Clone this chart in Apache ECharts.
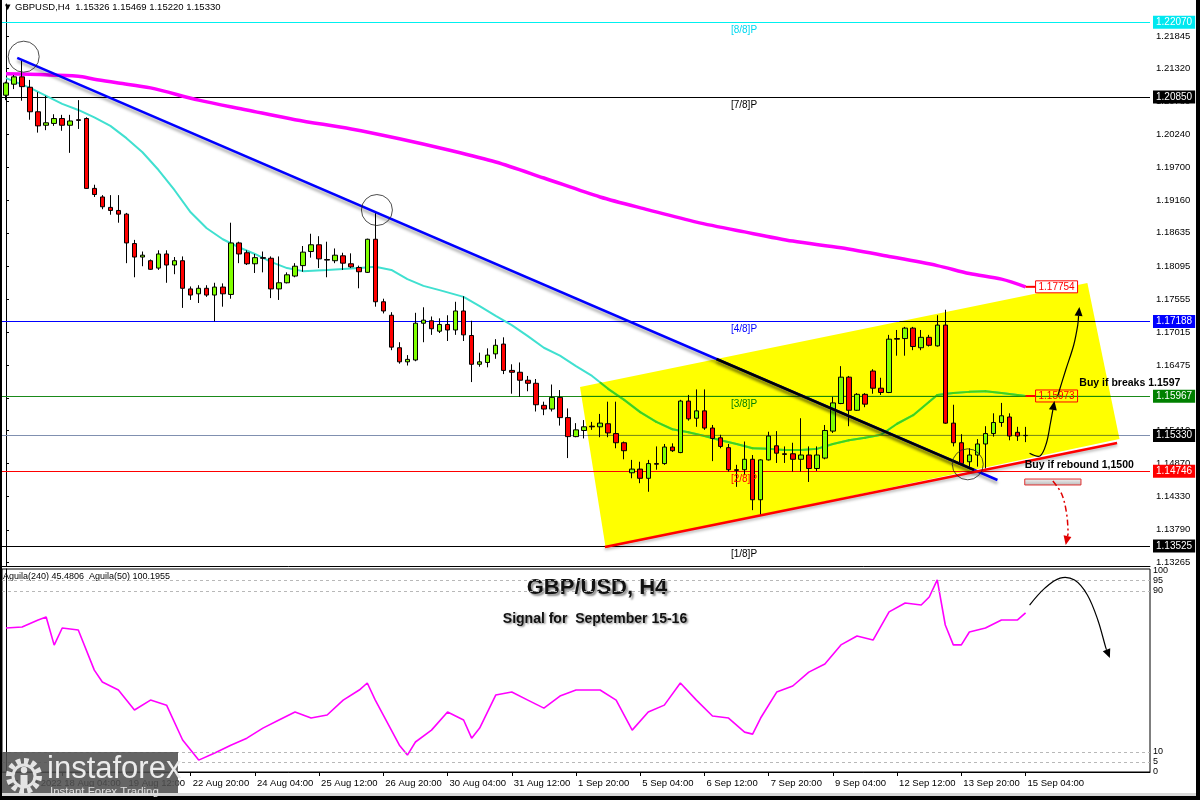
<!DOCTYPE html>
<html><head><meta charset="utf-8">
<script src="https://cdn.jsdelivr.net/npm/echarts@6/dist/echarts.min.js"></script>
<style>html,body{margin:0;padding:0;background:#fff}#c{width:1200px;height:800px}</style>
</head><body><div id="c"></div><script>
// ---------- DATA ----------
const days = ['17 Aug','18 Aug','19 Aug','22 Aug','23 Aug','24 Aug','25 Aug','26 Aug','29 Aug','30 Aug','31 Aug','1 Sep','2 Sep','5 Sep','6 Sep','7 Sep','8 Sep','9 Sep','12 Sep','13 Sep','14 Sep','15 Sep'];
const hours = ['00:00','04:00','08:00','12:00','16:00','20:00'];
const xTickAt = ['17 Aug 00:00','18 Aug 04:00','19 Aug 12:00','22 Aug 20:00','24 Aug 04:00','25 Aug 12:00','26 Aug 20:00','30 Aug 04:00','31 Aug 12:00','1 Sep 20:00','5 Sep 04:00','6 Sep 12:00','7 Sep 20:00','9 Sep 04:00','12 Sep 12:00','13 Sep 20:00','15 Sep 04:00'];
const xTickLabels = ['17 Aug 2022','18 Aug 04:00','19 Aug 12:00','22 Aug 20:00','24 Aug 04:00','25 Aug 12:00','26 Aug 20:00','30 Aug 04:00','31 Aug 12:00','1 Sep 20:00','5 Sep 04:00','6 Sep 12:00','7 Sep 20:00','9 Sep 04:00','12 Sep 12:00','13 Sep 20:00','15 Sep 04:00'];

const opens = [1.2088,1.2106,1.2118,1.2101,1.2061,1.2039,1.2042,1.2050,1.2039,1.2048,1.2050,1.1936,1.1922,1.1905,1.1900,1.1894,1.1846,1.1824,1.1818,1.1806,1.1829,1.1811,1.1818,1.1772,1.1764,1.1773,1.1762,1.1775,1.1763,1.1847,1.1831,1.1813,1.1823,1.1822,1.1772,1.1782,1.1793,1.1810,1.1833,1.1844,1.1820,1.1818,1.1826,1.1813,1.1807,1.1799,1.1853,1.1751,1.1729,1.1676,1.1653,1.1656,1.1716,1.1720,1.1703,1.1714,1.1705,1.1736,1.1696,1.1649,1.1652,1.1666,1.1682,1.1639,1.1636,1.1623,1.1618,1.1582,1.1576,1.1595,1.1562,1.1531,1.1541,1.1548,1.1547,1.1552,1.1536,1.1521,1.1472,1.1478,1.1463,1.1487,1.1487,1.1514,1.1505,1.1589,1.1561,1.1573,1.1545,1.1529,1.1513,1.1477,1.1477,1.1494,1.1428,1.1493,1.1516,1.1503,1.1503,1.1494,1.1501,1.1479,1.1496,1.1540,1.1585,1.1628,1.1574,1.1600,1.1638,1.1610,1.1603,1.1691,1.1691,1.1708,1.1676,1.1693,1.1679,1.1713,1.1553,1.1521,1.1490,1.1501,1.1519,1.1536,1.1554,1.1563,1.1538,1.15326];
const highs = [1.2110,1.2121,1.2145,1.2113,1.2093,1.2087,1.2057,1.2056,1.2056,1.2080,1.2052,1.1942,1.1925,1.1925,1.1925,1.1896,1.1852,1.1833,1.1820,1.1835,1.1835,1.1824,1.1825,1.1776,1.1778,1.1778,1.1782,1.1781,1.1880,1.1849,1.1835,1.1829,1.1833,1.1825,1.1825,1.1799,1.1814,1.1842,1.1862,1.1858,1.1849,1.1838,1.1831,1.1830,1.1810,1.1854,1.1897,1.1756,1.1734,1.1685,1.1664,1.1733,1.1742,1.1727,1.1724,1.1729,1.1751,1.1760,1.1720,1.1668,1.1675,1.1690,1.1693,1.1649,1.1652,1.1630,1.1625,1.1588,1.1616,1.1607,1.1577,1.1553,1.1558,1.1555,1.1568,1.1588,1.1588,1.1523,1.1493,1.1490,1.1493,1.1515,1.1519,1.1520,1.1591,1.1599,1.1608,1.1608,1.1550,1.1534,1.1519,1.1485,1.1523,1.1501,1.1494,1.1539,1.1540,1.1515,1.1521,1.1561,1.1515,1.1515,1.1550,1.1596,1.1646,1.1630,1.1602,1.1602,1.1641,1.1627,1.1697,1.1705,1.1710,1.1710,1.1705,1.1697,1.1729,1.1738,1.1583,1.1535,1.1512,1.1527,1.1548,1.1569,1.1586,1.1569,1.1547,1.15469];
const lows = [1.2080,1.2098,1.2079,1.2048,1.2027,1.2031,1.2038,1.2030,1.1994,1.2033,1.1935,1.1922,1.1902,1.1893,1.1880,1.1814,1.1791,1.1809,1.1803,1.1803,1.1782,1.1796,1.1741,1.1754,1.1749,1.1759,1.1719,1.1743,1.1756,1.1814,1.1811,1.1798,1.1799,1.1757,1.1754,1.1781,1.1791,1.1800,1.1823,1.1806,1.1791,1.1814,1.1803,1.1806,1.1773,1.1798,1.1743,1.1732,1.1672,1.1650,1.1647,1.1654,1.1685,1.1697,1.1700,1.1687,1.1697,1.1687,1.1620,1.1645,1.1644,1.1658,1.1633,1.1601,1.1596,1.1605,1.1572,1.1566,1.1572,1.1549,1.1496,1.1530,1.1528,1.1542,1.1530,1.1530,1.1512,1.1494,1.1463,1.1455,1.1441,1.1477,1.1485,1.1506,1.1504,1.1557,1.1547,1.1542,1.1491,1.1512,1.1474,1.1449,1.1468,1.1411,1.1403,1.1492,1.1488,1.1488,1.1474,1.1474,1.1457,1.1475,1.1494,1.1537,1.1584,1.1548,1.1573,1.1579,1.1601,1.1599,1.1602,1.1663,1.1663,1.1672,1.1672,1.1678,1.1678,1.1552,1.1515,1.1485,1.1479,1.1482,1.1479,1.1531,1.1547,1.1525,1.1524,1.15220];
const closes = [1.2108,1.2118,1.2102,1.2061,1.2038,1.2043,1.2050,1.2039,1.2046,1.2047,1.1936,1.1926,1.1906,1.1900,1.1894,1.1847,1.1824,1.1827,1.1804,1.1829,1.1811,1.1818,1.1773,1.1762,1.1773,1.1762,1.1775,1.1764,1.1847,1.1829,1.1813,1.1823,1.1822,1.1772,1.1782,1.1795,1.1809,1.1832,1.1844,1.1821,1.1819,1.1827,1.1814,1.1808,1.1800,1.1853,1.1751,1.1736,1.1677,1.1653,1.1657,1.1716,1.1721,1.1707,1.1714,1.1705,1.1736,1.1697,1.1649,1.1653,1.1664,1.1680,1.1639,1.1636,1.1623,1.1618,1.1583,1.1576,1.1595,1.1562,1.1531,1.1542,1.1547,1.1547,1.1553,1.1537,1.1521,1.1508,1.1478,1.1463,1.1487,1.1486,1.1514,1.1508,1.1589,1.1560,1.1573,1.1545,1.1528,1.1515,1.1477,1.1476,1.1494,1.1428,1.1493,1.1532,1.1504,1.1502,1.1494,1.1501,1.1479,1.1501,1.1541,1.1586,1.1628,1.1574,1.1600,1.1584,1.1610,1.1603,1.1690,1.1690,1.1708,1.1678,1.1693,1.1680,1.1713,1.1553,1.1521,1.1487,1.1501,1.1519,1.1536,1.1554,1.1565,1.1532,1.1532,1.15330];

// moving averages: [bar index, price]
const maSlow = [[0,1.2123],[9,1.2119],[11,1.2114],[14,1.2108],[18,1.2100],[24,1.2080],[30,1.2064],[36,1.2048],[43,1.2033],[49,1.2017],[55,1.1999],[61,1.1979],[67,1.1953],[74,1.1922],[80,1.1901],[86,1.1881],[92,1.1865],[98,1.1850],[104,1.1839],[110,1.1825],[116,1.1810],[120,1.1797],[124,1.1788],[127,1.17754]];
const maFast = [[0,1.2116],[3,1.2100],[7,1.2074],[9,1.2064],[11,1.2052],[13,1.2038],[15,1.2018],[17,1.1995],[19,1.1966],[21,1.1933],[23,1.1897],[25,1.1871],[27,1.1853],[29,1.1840],[31,1.1829],[33,1.1816],[35,1.1806],[37,1.1801],[40,1.1803],[44,1.1806],[46,1.1808],[48,1.1803],[50,1.1788],[52,1.1777],[54,1.1770],[57,1.1759],[59,1.1744],[61,1.1728],[63,1.1713],[65,1.1695],[67,1.1676],[69,1.1663],[71,1.1646],[73,1.1630],[75,1.1609],[77,1.1591],[79,1.1571],[81,1.1555],[83,1.1543],[85,1.1538],[87,1.1532],[89,1.1525],[91,1.1519],[93,1.1512],[95,1.1511],[97,1.1509],[99,1.1509],[101,1.1511],[103,1.1519],[105,1.1525],[107,1.1529],[109,1.1534],[111,1.1552],[113,1.1566],[115,1.1588],[116,1.1599],[118,1.1602],[120,1.1604],[122,1.1605],[124,1.1602],[126,1.1599],[127,1.15973]];

// Murrey levels
const levelPrices = [1.22070,1.20850,1.17188,1.15967,1.15330,1.14746,1.13525];
const levelNames  = ['[8/8]P','[7/8]P','[4/8]P','[3/8]P','','[2/8]P','[1/8]P'];
const levelLineColors = ['#00f0f0','#000000','#0000ff','#1a8a1a','#8090b0','#ff0000','#000000'];
const levelOnYellow   = ['#00f000','#000000','#000000','#1a8a00','#809000','#ff0000','#000000'];
const levelBoxColors  = ['#00e8f0','#000000','#0000ff','#008000','#000000','#ff0000','#000000'];
const levelTextColors = ['#00d8f0','#000000','#0000ff','#008000','#000000','#ff0000','#000000'];

const priceTicks = [1.22385,1.21845,1.21320,1.20780,1.20240,1.19700,1.19160,1.18635,1.18095,1.17555,1.17015,1.16475,1.15935,1.15410,1.14870,1.14330,1.13790,1.13265];

// annotations in [bar index, price]
const downTrend = [[1.4,1.21488],[123.5,1.14602]];
const supportLine = [[74.6,1.13509],[138.4,1.15206]];
const channelCorners = [[71.5,1.16120],[134.7,1.17816],[138.7,1.15271],[74.7,1.13493]];
const circles = [[2.2,1.21509],[46.2,1.19007],[119.8,1.14858]];
const priceTags = [[127,1.17754],[127,1.15973]];
const noteTexts = ['Buy if breaks 1.1597','Buy if rebound 1,1500'];
const notePos = [[133.7,1.16185],[126.9,1.14847]];
const stopBox = [[126.9,1.14618],[133.9,1.14521]];
const arrowUpShort = [[127.5,1.15038],[128.8,1.14994],[129.6,1.15206],[130.1,1.15532],[130.6,1.15891]];
const arrowUpLong = [[131.0,1.15973],[132.0,1.16397],[133.0,1.16805],[133.5,1.17131],[133.7,1.17425]];
const arrowDown = [[130.4,1.14586],[131.5,1.14374],[132.1,1.14064],[132.3,1.13737],[132.0,1.13542]];

// indicator (Aguila) [bar index, value]
const aguila = [[0,71.5],[2,72],[4,75.5],[5,77],[6,63],[7,71.5],[9,70.5],[11,50.6],[12,44.7],[14,40.7],[16,30.8],[18,35.7],[20,33.2],[22,15.9],[24,5.9],[26,9.4],[28,13.3],[30,16.8],[32,21.8],[34,25.8],[36,29.8],[38,26.8],[40,28.3],[42,35.7],[44,40.7],[45,44.2],[46,35.7],[47,28.3],[48,20.8],[49,13.3],[50,8.4],[51,14.9],[53,20.8],[55,29.8],[57,25.8],[58,16.8],[59,21.8],[61,38.2],[63,39.7],[65,35.7],[67,31.7],[69,37.7],[71,40.7],[74,40.7],[76,35.7],[78,20.8],[80,29.8],[82,33.2],[84,44.2],[86,35.7],[88,27.8],[90,26.8],[92,19.8],[93,18.8],[94,26.8],[96,39.7],[98,42.7],[100,49.6],[102,53.6],[104,63.1],[106,67.5],[108,65.5],[110,79.5],[112,83.9],[114,82.9],[115,86.9],[116,95.4],[117,73],[118,63.1],[119,63.1],[120,69.5],[122,71.5],[124,75.5],[126,75.5],[127,79]];
const indLevels = [5,10,90,95];
const indTicks = [0,5,10,90,95,100];
const indArrow = [[127.5,82.9],[129.4,91.3],[131.3,96.3],[133.1,95.3],[134.7,87.9],[136.0,75.5],[137.0,61.6],[137.5,56.6]];

// ---------- BUILD ----------
const NSLOT = 143;
const categories = [];
days.forEach(d => hours.forEach(h => categories.push(d + ' ' + h)));
categories.length = opens.length;
const xCats = categories.concat(Array.from({length: NSLOT - categories.length}, (_, k) => '_' + k));
const candles = opens.map((o, i) => [o, closes[i], lows[i], highs[i]]);
const FONT = 'Liberation Sans';

const chart = echarts.init(document.getElementById('c'), null, {renderer: 'canvas', width: 1200, height: 800});

function arrowItem(api, pts, color, width, dash) {
  const px = pts.map(p => api.coord(p));
  const n = px.length;
  const tip = px[n - 1], prev = px[n - 2];
  let dx = tip[0] - prev[0], dy = tip[1] - prev[1];
  const len = Math.hypot(dx, dy) || 1; dx /= len; dy /= len;
  const L = 9, W = 4;
  const base = [tip[0] - dx * L, tip[1] - dy * L];
  const line = px.slice(0, n - 1).concat([base]);
  return [
    {type: 'polyline', shape: {points: line, smooth: 0.35}, style: {stroke: color, lineWidth: width, fill: null, lineDash: dash || null}},
    {type: 'polygon', shape: {points: [tip, [base[0] - dy * W, base[1] + dx * W], [base[0] + dy * W, base[1] - dx * W]]}, style: {fill: color}}
  ];
}

// Cyrus-Beck clipping of a segment against a convex polygon (pixel space)
function clipSeg(p0, p1, poly) {
  const cx = poly.reduce((s, p) => s + p[0], 0) / poly.length;
  const cy = poly.reduce((s, p) => s + p[1], 0) / poly.length;
  let t0 = 0, t1 = 1;
  const d = [p1[0] - p0[0], p1[1] - p0[1]];
  for (let i = 0; i < poly.length; i++) {
    const a = poly[i], b = poly[(i + 1) % poly.length];
    let n = [-(b[1] - a[1]), b[0] - a[0]];
    if (n[0] * (cx - a[0]) + n[1] * (cy - a[1]) < 0) n = [-n[0], -n[1]];
    const f = n[0] * (p0[0] - a[0]) + n[1] * (p0[1] - a[1]);
    const g = n[0] * d[0] + n[1] * d[1];
    if (Math.abs(g) < 1e-9) { if (f < 0) return null; continue; }
    const t = -f / g;
    if (g > 0) t0 = Math.max(t0, t); else t1 = Math.min(t1, t);
    if (t0 > t1) return null;
  }
  return [[p0[0] + t0 * d[0], p0[1] + t0 * d[1]], [p0[0] + t1 * d[0], p0[1] + t1 * d[1]]];
}
function clippedPieces(api, pts, style) {
  const poly = channelCorners.map(c => api.coord(c));
  const px = pts.map(p => api.coord(p));
  const out = [];
  for (let i = 0; i < px.length - 1; i++) {
    const s = clipSeg(px[i], px[i + 1], poly);
    if (s) out.push({type: 'line', shape: {x1: s[0][0], y1: s[0][1], x2: s[1][0], y2: s[1][1]}, style: Object.assign({lineCap: 'round'}, style)});
  }
  return out;
}

const option = {
  backgroundColor: '#ffffff',
  animation: false,
  textStyle: {fontFamily: FONT},
  grid: [
    {left: 2, right: 50, top: 4, height: 562, show: false},
    {left: 2, right: 50, top: 569, height: 203, show: true, borderColor: '#000', borderWidth: 1}
  ],
  xAxis: [
    {type: 'category', gridIndex: 0, data: xCats, boundaryGap: true, axisLine: {show: true, lineStyle: {color: '#000'}}, axisTick: {show: false}, axisLabel: {show: false}, splitLine: {show: false}},
    {type: 'value', gridIndex: 0, min: -0.5, max: NSLOT - 0.5, show: false},
    {type: 'category', gridIndex: 1, data: xCats, boundaryGap: true, position: 'bottom',
      axisLine: {show: true, lineStyle: {color: '#000'}},
      axisTick: {show: true, alignWithLabel: true, length: 4, lineStyle: {color: '#000'}, interval: (i, v) => xTickAt.indexOf(v) >= 0},
      axisLabel: {show: true, interval: (i, v) => xTickAt.indexOf(v) >= 0, formatter: v => { const k = xTickAt.indexOf(v); return k >= 0 ? xTickLabels[k] : ''; },
        align: 'left', margin: 6, color: '#000', fontSize: 9.5, fontFamily: FONT, padding: [0, 0, 0, 2]},
      splitLine: {show: false}},
    {type: 'value', gridIndex: 1, min: -0.5, max: NSLOT - 0.5, show: false}
  ],
  yAxis: [
    {type: 'value', gridIndex: 0, position: 'right', min: 1.1319894, max: 1.2236854,
      axisLine: {show: true, lineStyle: {color: '#000'}},
      axisTick: {show: true, length: 3, customValues: priceTicks, lineStyle: {color: '#000'}},
      axisLabel: {show: true, customValues: priceTicks, formatter: v => v.toFixed(5), color: '#000', fontSize: 9.5, fontFamily: FONT, margin: 6},
      splitLine: {show: false}},
    {type: 'value', gridIndex: 1, position: 'right', min: 0, max: 100.8,
      axisLine: {show: true, lineStyle: {color: '#000'}},
      axisTick: {show: false},
      axisLabel: {show: true, customValues: indTicks, color: '#000', fontSize: 9, fontFamily: FONT, margin: 3},
      splitLine: {show: false}}
  ],
  series: [
    // yellow channel (background)
    {type: 'custom', xAxisIndex: 1, yAxisIndex: 0, z: 0, data: [0], silent: true,
      renderItem: (params, api) => ({type: 'polygon', shape: {points: channelCorners.map(c => api.coord(c))}, style: {fill: '#ffff00'}})},
    {type: 'line', name: 'ma240', xAxisIndex: 1, yAxisIndex: 0, data: maSlow, smooth: 0.3, showSymbol: false, z: 2,
      lineStyle: {color: '#ff00ff', width: 3.5}},
    {type: 'line', name: 'ma50', xAxisIndex: 1, yAxisIndex: 0, data: maFast, smooth: false, showSymbol: false, z: 2,
      lineStyle: {color: '#40e0d0', width: 2}},
    // colour shift of lines over the yellow channel
    {type: 'custom', xAxisIndex: 1, yAxisIndex: 0, z: 2.5, data: [0], silent: true,
      renderItem: (params, api) => {
        let ch = clippedPieces(api, maFast, {stroke: '#44d414', lineWidth: 2});
        levelPrices.forEach((lv, k) => {
          if (levelOnYellow[k] !== levelLineColors[k]) ch = ch.concat(clippedPieces(api, [[-0.5, lv], [NSLOT - 0.5, lv]], {stroke: levelOnYellow[k], lineWidth: 1, lineCap: 'butt'}));
        });
        return {type: 'group', children: ch};
      }},
    {type: 'candlestick', xAxisIndex: 0, yAxisIndex: 0, data: candles, barWidth: 5, z: 3,
      itemStyle: {color: '#80ff00', color0: '#ff0000', borderColor: '#000', borderColor0: '#000', borderWidth: 1},
      markLine: {symbol: ['none', 'none'], silent: true, animation: false, z: 1, precision: 5,
        data: levelPrices.map((lv, k) => ({yAxis: lv,
          lineStyle: {color: levelLineColors[k], width: 1, type: 'solid'},
          label: {show: true, position: 'end', distance: 3, formatter: lv.toFixed(5), backgroundColor: levelBoxColors[k], color: '#fff',
            fontSize: 10, fontFamily: FONT, padding: [2, 3, 1, 3]}}))}},
    {type: 'line', name: 'downTrend', xAxisIndex: 1, yAxisIndex: 0, data: downTrend, showSymbol: false, z: 4,
      lineStyle: {color: '#0000ff', width: 2.5, shadowColor: 'rgba(0,0,0,0.35)', shadowBlur: 3, shadowOffsetY: 3}},
    {type: 'custom', xAxisIndex: 1, yAxisIndex: 0, z: 4.5, data: [0], silent: true,
      renderItem: (params, api) => ({type: 'group', children: clippedPieces(api, downTrend, {stroke: '#000', lineWidth: 2.5, lineCap: 'butt', shadowColor: 'rgba(0,0,0,0.35)', shadowBlur: 3, shadowOffsetY: 3})})},
    {type: 'line', name: 'support', xAxisIndex: 1, yAxisIndex: 0, data: supportLine, showSymbol: false, z: 4,
      lineStyle: {color: '#ff0000', width: 2.5, shadowColor: 'rgba(0,0,0,0.3)', shadowBlur: 3, shadowOffsetY: 2}},
    {type: 'scatter', xAxisIndex: 1, yAxisIndex: 0, data: circles, symbol: 'circle', symbolSize: 31, z: 5,
      itemStyle: {color: 'rgba(0,0,0,0)', borderColor: '#222', borderWidth: 1}},
    // level labels
    {type: 'custom', xAxisIndex: 1, yAxisIndex: 0, z: 5,
      data: levelPrices.map((lv, k) => [90.3, lv, k]).filter(d => levelNames[d[2]]),
      renderItem: (params, api) => {
        const p = api.coord([api.value(0), api.value(1)]);
        const k = api.value(2);
        return {type: 'text', x: p[0], y: p[1] + 3, style: {text: levelNames[k], fill: levelTextColors[k], font: '10px ' + FONT, textAlign: 'left', textVerticalAlign: 'top'}};
      }},
    // price tags
    {type: 'custom', xAxisIndex: 1, yAxisIndex: 0, z: 40, data: priceTags,
      renderItem: (params, api) => {
        const p = api.coord([api.value(0), api.value(1)]);
        const txt = api.value(1).toFixed(5);
        return {type: 'group', children: [
          {type: 'line', shape: {x1: p[0], y1: p[1], x2: p[0] + 10, y2: p[1]}, style: {stroke: '#ff0000', lineWidth: 2}},
          {type: 'rect', shape: {x: p[0] + 10, y: p[1] - 6, width: 42, height: 12}, style: {fill: params.dataIndex === 0 ? '#fff' : 'rgba(0,0,0,0)', stroke: '#ff0000', lineWidth: 1}},
          {type: 'text', x: p[0] + 31, y: p[1] + 0.5, style: {text: txt, fill: '#ff0000', font: '10px ' + FONT, textAlign: 'center', textVerticalAlign: 'middle'}}
        ]};
      }},
    // stop box
    {type: 'custom', xAxisIndex: 1, yAxisIndex: 0, z: 40, data: [0],
      renderItem: (params, api) => {
        const a = api.coord(stopBox[0]), b = api.coord(stopBox[1]);
        return {type: 'rect', shape: {x: a[0], y: a[1], width: b[0] - a[0], height: b[1] - a[1]},
          style: {fill: new echarts.graphic.LinearGradient(0, 0, 0, 1, [{offset: 0, color: '#f4f4f4'}, {offset: 1, color: '#b8b8b8'}]), stroke: '#e03030', lineWidth: 1}};
      }},
    // arrows on price pane
    {type: 'custom', xAxisIndex: 1, yAxisIndex: 0, z: 45, data: [0, 1, 2],
      renderItem: (params, api) => {
        const i = params.dataIndex;
        if (i === 0) return {type: 'group', children: arrowItem(api, arrowUpShort, '#000', 1.2)};
        if (i === 1) return {type: 'group', children: arrowItem(api, arrowUpLong, '#000', 1.2)};
        return {type: 'group', children: arrowItem(api, arrowDown, '#e00000', 1.5, [6, 3, 2, 3])};
      }},
    // note texts
    {type: 'custom', xAxisIndex: 1, yAxisIndex: 0, z: 60, data: notePos.map((p, k) => [p[0], p[1], k]),
      renderItem: (params, api) => {
        const p = api.coord([api.value(0), api.value(1)]);
        return {type: 'text', x: p[0], y: p[1], style: {text: noteTexts[api.value(2)], fill: '#000', font: 'bold 10.5px ' + FONT, textAlign: 'left', textVerticalAlign: 'middle'}};
      }},
    // indicator
    {type: 'line', xAxisIndex: 3, yAxisIndex: 1, data: aguila, showSymbol: false, z: 3,
      lineStyle: {color: '#ff00ff', width: 1.6},
      markLine: {symbol: ['none', 'none'], silent: true, label: {show: false}, precision: 2,
        lineStyle: {color: '#b8b8b8', type: [3, 3], width: 1}, data: indLevels.map(v => ({yAxis: v}))}},
    {type: 'custom', xAxisIndex: 3, yAxisIndex: 1, z: 45, data: [0],
      renderItem: (params, api) => ({type: 'group', children: arrowItem(api, indArrow, '#000', 1.2)})}
  ],
  graphic: [
    {type: 'text', left: 3, top: 2, style: {text: '\u25BC GBPUSD,H4  1.15326 1.15469 1.15220 1.15330', fill: '#000', font: '9.5px ' + FONT}},
    {type: 'text', left: 3, top: 572, style: {text: 'Aguila(240) 45.4806  Aguila(50) 100.1955', fill: '#000', font: '9px ' + FONT}},
    {type: 'text', x: 597, y: 588, style: {text: 'GBP/USD, H4', fill: '#111', font: 'bold 22px ' + FONT, textAlign: 'center', textVerticalAlign: 'middle', textShadowColor: 'rgba(0,0,0,0.45)', textShadowBlur: 2, textShadowOffsetX: 2, textShadowOffsetY: 2}},
    {type: 'text', x: 595, y: 619, style: {text: 'Signal for  September 15-16', fill: '#111', font: 'bold 14px ' + FONT, textAlign: 'center', textVerticalAlign: 'middle', textShadowColor: 'rgba(0,0,0,0.45)', textShadowBlur: 2, textShadowOffsetX: 1.5, textShadowOffsetY: 1.5}},
    // logo
    {type: 'rect', left: 0, top: 752, shape: {width: 178, height: 48}, style: {fill: 'rgba(80,80,80,0.88)'}, z: 100},
    {type: 'circle', x: 24, y: 776, shape: {cx: 0, cy: 0, r: 15}, style: {fill: 'none', stroke: '#e4e4e4', lineWidth: 6, lineDash: [4.5, 3.3]}, z: 101},
    {type: 'circle', x: 24, y: 776, shape: {cx: 0, cy: 0, r: 11}, style: {fill: 'none', stroke: '#e4e4e4', lineWidth: 3}, z: 101},
    {type: 'circle', x: 24, y: 770, shape: {cx: 0, cy: 0, r: 3.2}, style: {fill: '#e4e4e4'}, z: 101},
    {type: 'rect', x: 20.5, y: 775, shape: {width: 7, height: 12}, style: {fill: '#e4e4e4'}, z: 101},
    {type: 'text', left: 47, top: 754, style: {text: 'instaforex', fill: '#ececec', font: '31px ' + FONT}, z: 101},
    {type: 'text', left: 50, top: 786, style: {text: 'Instant Forex Trading', fill: '#e0e0e0', font: '11.5px ' + FONT}, z: 101},
    // window frame
    {type: 'rect', left: 0, top: 0, shape: {width: 2, height: 800}, style: {fill: '#000'}, z: 100},
    {type: 'rect', left: 1196, top: 0, shape: {width: 4, height: 800}, style: {fill: '#000'}, z: 100},
    {type: 'rect', left: 0, top: 796, shape: {width: 1200, height: 4}, style: {fill: '#000'}, z: 100},
    {type: 'rect', left: 2, top: 793, shape: {width: 1194, height: 3}, style: {fill: '#d8d8d8'}, z: 100}
  ]
};
chart.setOption(option);
</script></body></html>
